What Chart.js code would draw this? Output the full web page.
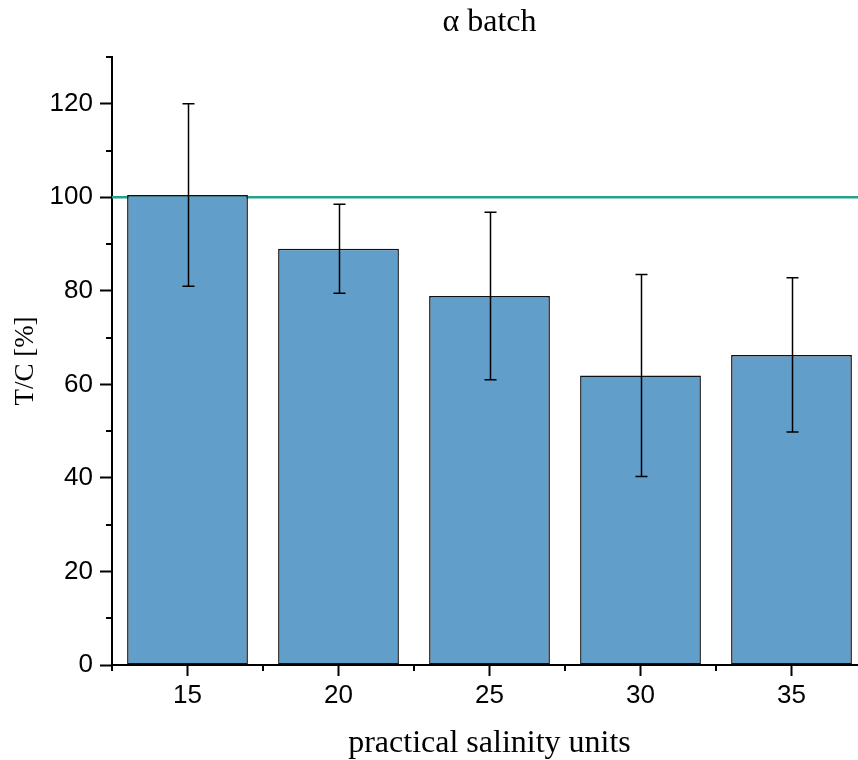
<!DOCTYPE html>
<html>
<head>
<meta charset="utf-8">
<script src="https://cdn.jsdelivr.net/npm/chart.js@4.4.1/dist/chart.umd.min.js"></script>
<style>
html, body { margin: 0; padding: 0; background: #fff; overflow: hidden; }
#wrap { width: 880px; height: 760px; }
</style>
</head>
<body>
<div id="wrap"><canvas id="myChart" width="880" height="760"></canvas></div>
<script>
var categories = ['15', '20', '25', '30', '35'];
var values = [100.5, 89.0, 78.9, 61.9, 66.3];
var errors = [19.5, 9.5, 17.9, 21.6, 16.5];
var yTicks = [0, 20, 40, 60, 80, 100, 120];
var yMinorTicks = [10, 30, 50, 70, 90, 110, 130];
var refValue = 100;

var sans = "'Liberation Sans', Arial, sans-serif";
var serif = "'Liberation Serif', 'Times New Roman', serif";

// reference line, error bars and minor ticks
var extras = {
    id: 'extras',
    beforeDatasetsDraw: function(chart) {
        var ctx = chart.ctx, area = chart.chartArea;
        var py = chart.scales.y.getPixelForValue(refValue);
        ctx.save();
        ctx.strokeStyle = '#26a08b';
        ctx.lineWidth = 2.5;
        ctx.beginPath();
        ctx.moveTo(area.left, py);
        ctx.lineTo(area.right, py);
        ctx.stroke();
        ctx.restore();
    },
    afterDatasetsDraw: function(chart) {
        var ctx = chart.ctx;
        var y = chart.scales.y;
        var meta = chart.getDatasetMeta(0);
        ctx.save();
        ctx.strokeStyle = '#000';
        ctx.lineWidth = 1.5;
        meta.data.forEach(function(bar, i) {
            var top = y.getPixelForValue(values[i] + errors[i]);
            var bot = y.getPixelForValue(values[i] - errors[i]);
            var x = Math.round(bar.x) + 0.5;
            ctx.beginPath();
            ctx.moveTo(x, top); ctx.lineTo(x, bot);
            ctx.moveTo(x - 6, top); ctx.lineTo(x + 6, top);
            ctx.moveTo(x - 6, bot); ctx.lineTo(x + 6, bot);
            ctx.stroke();
        });
        ctx.restore();
    },
    afterDraw: function(chart) {
        var ctx = chart.ctx, area = chart.chartArea;
        var x = chart.scales.x, y = chart.scales.y;
        ctx.save();
        ctx.strokeStyle = '#000';
        ctx.lineWidth = 2;
        ctx.beginPath();
        yMinorTicks.forEach(function(v) {
            var py = Math.round(y.getPixelForValue(v));
            ctx.moveTo(area.left - 6, py);
            ctx.lineTo(area.left, py);
        });
        var step = x.getPixelForValue(1) - x.getPixelForValue(0);
        for (var i = 0; i <= categories.length; i++) {
            var px = Math.round(x.getPixelForValue(i) - step / 2);
            ctx.moveTo(px, area.bottom);
            ctx.lineTo(px, area.bottom + 6);
        }
        ctx.stroke();
        ctx.restore();
    }
};

var ctx = document.getElementById('myChart').getContext('2d');
var myChart = new Chart(ctx, {
    type: 'bar',
    data: {
        labels: categories,
        datasets: [{
            data: values,
            backgroundColor: '#619ec9',
            borderColor: '#111',
            borderWidth: 1.5,
            borderSkipped: false,
            categoryPercentage: 1,
            barPercentage: 0.8
        }]
    },
    options: {
        responsive: false,
        animation: false,
        layout: { padding: { left: 0, right: 13, top: 0, bottom: 0 } },
        plugins: {
            legend: { display: false },
            tooltip: { enabled: false },
            title: {
                display: true,
                text: 'α batch',
                fullSize: false,
                color: '#000',
                font: { family: serif, size: 32, weight: 'normal', lineHeight: 1.2 },
                padding: { top: 3, bottom: 15.6 }
            }
        },
        scales: {
            x: {
                offset: true,
                afterFit: function(scale) { scale.height = 95; },
                grid: { offset: false, drawOnChartArea: false, tickLength: 11, tickColor: '#000', tickWidth: 2 },
                border: { color: '#000', width: 2 },
                ticks: { color: '#000', font: { family: sans, size: 26 }, padding: 4 },
                title: {
                    display: true,
                    text: 'practical salinity units',
                    color: '#000',
                    font: { family: serif, size: 32, lineHeight: 1 },
                    padding: { top: 0, bottom: 0 }
                }
            },
            y: {
                min: 0,
                max: 130,
                afterBuildTicks: function(scale) {
                    scale.ticks = yTicks.map(function(v) { return { value: v }; });
                },
                afterFit: function(scale) { scale.width = 112; },
                grid: { drawOnChartArea: false, tickLength: 12, tickColor: '#000', tickWidth: 2 },
                border: { color: '#000', width: 2 },
                ticks: { color: '#000', font: { family: sans, size: 26 }, padding: 7 },
                title: {
                    display: true,
                    text: 'T/C [%]',
                    color: '#000',
                    font: { family: serif, size: 27, lineHeight: 1 },
                    padding: { top: 12, bottom: 0 }
                }
            }
        }
    },
    plugins: [extras]
});
</script>
</body>
</html>
